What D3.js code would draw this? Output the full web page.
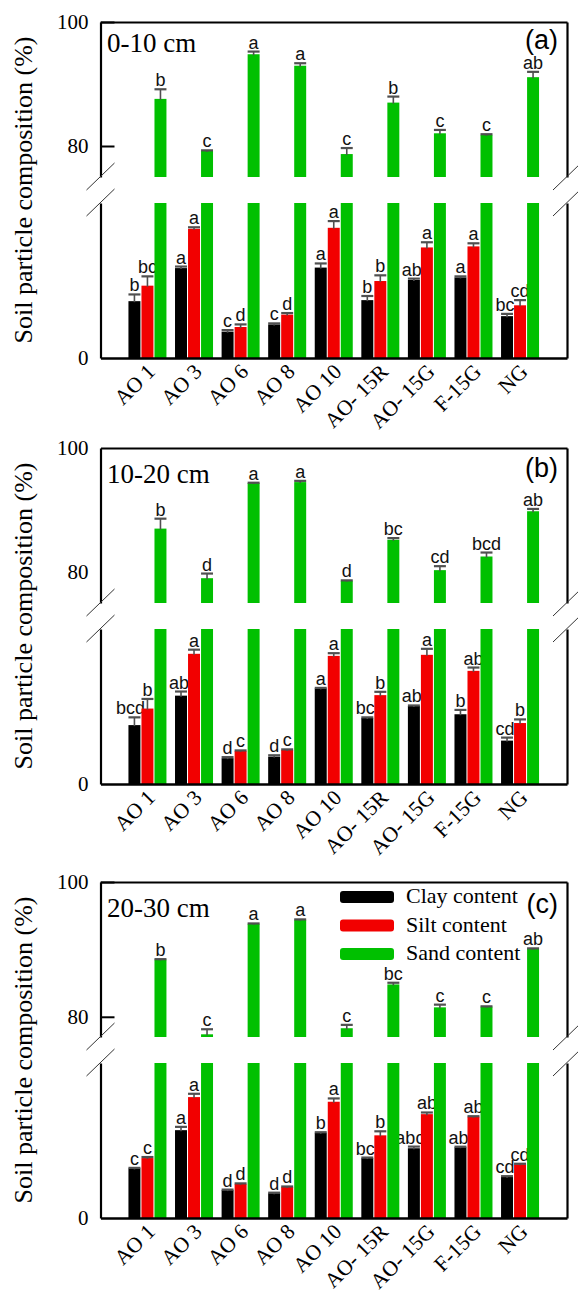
<!DOCTYPE html>
<html>
<head>
<meta charset="utf-8">
<script src="https://cdn.jsdelivr.net/npm/d3@7"></script>
<style>
  html, body { margin: 0; padding: 0; background: #fff; }
  svg { display: block; }
</style>
</head>
<body>
<script>
// ---------------- DATA ----------------
const categories = ["AO 1", "AO 3", "AO 6", "AO 8", "AO 10", "AO- 15R", "AO- 15G", "F-15G", "NG"];
const seriesNames = ["Clay content", "Silt content", "Sand content"];
const depthLabels = ["0-10 cm", "10-20 cm", "20-30 cm"];
const panelTags = ["(a)", "(b)", "(c)"];
const upperTicks = [80, 100];
const lowerTicks = [0];
const upperMin = [75, 75, 77];
const lowerMax = 15;

// Panel (a) 0-10 cm
const clayA = [5.5, 8.7, 2.55, 3.25, 8.75, 5.6, 7.55, 7.8, 4.05];
const clayErrA = [0.65, 0.15, 0.15, 0.1, 0.4, 0.4, 0.13, 0.1, 0.22];
const siltA = [7.0, 12.5, 3.0, 4.2, 12.6, 7.45, 10.7, 10.8, 5.1];
const siltErrA = [0.9, 0.15, 0.25, 0.15, 0.65, 0.55, 0.5, 0.3, 0.5];
const sandA = [87.6, 79.2, 94.8, 92.95, 78.7, 87.0, 82.05, 81.8, 91.1];
const sandErrA = [1.55, 0.1, 0.43, 0.4, 0.97, 0.97, 0.54, 0.1, 0.86];
const clayLetA = ["b", "a", "c", "c", "a", "b", "ab", "a", "bc"];
const siltLetA = ["bc", "a", "d", "d", "a", "b", "a", "a", "cd"];
const sandLetA = ["b", "c", "a", "a", "c", "b", "c", "c", "ab"];

// Panel (b) 10-20 cm
const clayB = [5.7, 8.55, 2.5, 2.65, 9.25, 6.4, 7.55, 6.75, 4.2];
const clayErrB = [0.75, 0.4, 0.1, 0.13, 0.05, 0.05, 0.05, 0.42, 0.29];
const siltB = [7.3, 12.6, 3.2, 3.3, 12.4, 8.6, 12.5, 10.95, 5.9];
const siltErrB = [0.93, 0.4, 0.05, 0.05, 0.26, 0.32, 0.58, 0.32, 0.35];
const sandB = [87.0, 79.0, 94.35, 94.5, 78.6, 85.2, 80.3, 82.5, 89.8];
const sandErrB = [1.6, 0.75, 0.05, 0.2, 0.05, 0.27, 0.64, 0.64, 0.37];
const clayLetB = ["bcd", "ab", "d", "d", "a", "bc", "ab", "b", "cd"];
const siltLetB = ["b", "a", "c", "c", "a", "b", "a", "ab", "b"];
const sandLetB = ["b", "d", "a", "a", "d", "bc", "cd", "bcd", "ab"];

// Panel (c) 20-30 cm
const clayC = [4.8, 8.5, 2.7, 2.4, 8.25, 5.8, 6.75, 6.85, 4.0];
const clayErrC = [0.05, 0.32, 0.05, 0.05, 0.05, 0.05, 0.16, 0.05, 0.05];
const siltC = [5.8, 11.7, 3.3, 3.0, 11.25, 8.0, 10.05, 9.8, 5.2];
const siltErrC = [0.1, 0.32, 0.05, 0.05, 0.32, 0.39, 0.16, 0.05, 0.05];
const sandC = [88.5, 77.4, 93.8, 94.4, 78.3, 84.8, 81.4, 81.5, 90.1];
const sandErrC = [0.05, 0.75, 0.05, 0.05, 0.5, 0.25, 0.4, 0.05, 0.05];
const clayLetC = ["c", "a", "d", "d", "b", "bc", "abc", "ab", "cd"];
const siltLetC = ["c", "a", "d", "d", "a", "b", "ab", "ab", "cd"];
const sandLetC = ["b", "c", "a", "a", "c", "bc", "c", "c", "ab"];

// ---------------- BUILD ----------------
const panels = [
  { values: [clayA, siltA, sandA], errs: [clayErrA, siltErrA, sandErrA], lets: [clayLetA, siltLetA, sandLetA] },
  { values: [clayB, siltB, sandB], errs: [clayErrB, siltErrB, sandErrB], lets: [clayLetB, siltLetB, sandLetB] },
  { values: [clayC, siltC, sandC], errs: [clayErrC, siltErrC, sandErrC], lets: [clayLetC, siltLetC, sandLetC] }
];

const W = 578, H = 1296;
const colors = ["#000000", "#f20000", "#00c000"];
const errColor = "#505050";
const serif = "'Liberation Serif','Times New Roman',serif";
const sans = "'Liberation Sans',Arial,sans-serif";

const panelTops = [22, 448, 882];
const labelBase = [30, 35, 35];
const tagBase = [27, 29, 31];
const showUpperTick = [true, false, true];
const segH = 155, gapH = 26;
const xL = 100.5, xR = 567;

const svg = d3.select("body").append("svg").attr("width", W).attr("height", H);

const x = d3.scaleBand().domain(categories).range([xL, xR]).paddingInner(0.184).paddingOuter(0.6);
const xs = d3.scaleBand().domain(seriesNames).range([0, x.bandwidth()]).paddingInner(0.08);

panels.forEach((P, p) => {
  const top = panelTops[p];
  const upBot = top + segH;
  const loTop = upBot + gapH;
  const zero = loTop + segH;
  const yU = d3.scaleLinear().domain([upperMin[p], 100]).range([upBot, top]);
  const yL = d3.scaleLinear().domain([0, lowerMax]).range([zero, loTop]);
  const g = svg.append("g");

  // bars
  seriesNames.forEach((s, si) => {
    const vals = P.values[si];
    const errs = P.errs[si];
    const lets = P.lets[si];
    categories.forEach((c, i) => {
      const bx = x(c) + xs(s);
      const bw = xs.bandwidth();
      const v = vals[i];
      const e = errs[i];
      const lv = Math.min(v, lowerMax);
      g.append("rect").attr("x", bx).attr("y", yL(lv)).attr("width", bw)
        .attr("height", yL(0) - yL(lv)).attr("fill", colors[si]);
      let yTop, yErr;
      if (v > lowerMax) {
        g.append("rect").attr("x", bx).attr("y", yU(v)).attr("width", bw)
          .attr("height", yU(upperMin[p]) - yU(v)).attr("fill", colors[si]);
        yTop = yU(v); yErr = yU(v + e);
      } else {
        yTop = yL(v); yErr = yL(v + e);
      }
      // error bar
      g.append("line").attr("x1", bx + bw / 2).attr("x2", bx + bw / 2)
        .attr("y1", yTop + 1).attr("y2", yErr).attr("stroke", errColor).attr("stroke-width", 1.6);
      g.append("line").attr("x1", bx).attr("x2", bx + bw)
        .attr("y1", yErr).attr("y2", yErr).attr("stroke", errColor).attr("stroke-width", 2.2);
      // significance letter (clay letters nudged left like the original)
      const shift = si === 0 ? -Math.max(0, lets[i].length - 1) * 2 : 0;
      g.append("text").attr("x", bx + bw / 2 + shift).attr("y", yErr - 3)
        .attr("text-anchor", "middle").attr("font-family", sans).attr("font-size", 18)
        .attr("fill", "#111").text(lets[i]);
    });
  });

  // axes
  const axU = g.append("g").attr("transform", `translate(${xL},0)`)
    .call(d3.axisLeft(yU).tickValues(upperTicks).tickFormat(d3.format("d"))
      .tickSizeInner(showUpperTick[p] ? -14 : 0).tickSizeOuter(0).tickPadding(12));
  const axL = g.append("g").attr("transform", `translate(${xL},0)`)
    .call(d3.axisLeft(yL).tickValues(lowerTicks).tickFormat(d3.format("d"))
      .tickSizeInner(0).tickSizeOuter(0).tickPadding(12));
  const axRU = g.append("g").attr("transform", `translate(${xR},0)`)
    .call(d3.axisRight(yU).tickValues([]).tickSizeOuter(0));
  const axRL = g.append("g").attr("transform", `translate(${xR},0)`)
    .call(d3.axisRight(yL).tickValues([]).tickSizeOuter(0));
  const axB = g.append("g").attr("transform", `translate(0,${zero})`)
    .call(d3.axisBottom(x).tickSize(0).tickPadding(0));
  const axT = g.append("g").attr("transform", `translate(0,${top})`)
    .call(d3.axisTop(x).tickSize(0).tickFormat(""));

  [axU, axL, axRU, axRL, axB, axT].forEach(a => {
    a.select(".domain").attr("stroke", "#000").attr("stroke-width", 2.2);
    a.selectAll(".tick line").attr("stroke", "#000").attr("stroke-width", 2);
    a.selectAll("text").attr("font-family", serif).attr("font-size", 21).attr("fill", "#000");
  });
  axB.select(".domain").attr("stroke-width", 2.6);
  axB.selectAll(".tick text")
    .attr("font-size", 21.5)
    .attr("text-anchor", "end")
    .attr("dy", 0).attr("y", 0)
    .attr("transform", "translate(9,15) rotate(-45)");

  // break marks
  [[xL, upBot], [xL, loTop], [xR, upBot], [xR, loTop]].forEach(([bx, by]) => {
    g.append("line").attr("x1", bx - 14).attr("y1", by + 13).attr("x2", bx + 14).attr("y2", by - 14)
      .attr("stroke", "#333").attr("stroke-width", 1);
  });

  // labels
  g.append("text").attr("x", 107).attr("y", top + labelBase[p])
    .attr("font-family", serif).attr("font-size", 27).attr("fill", "#000").text(depthLabels[p]);
  g.append("text").attr("x", 558).attr("y", top + tagBase[p])
    .attr("text-anchor", "end").attr("font-family", sans).attr("font-size", 27).attr("fill", "#000").text(panelTags[p]);
  g.append("text").attr("transform", `translate(32,${(top + zero) / 2}) rotate(-90)`)
    .attr("text-anchor", "middle").attr("font-family", serif).attr("font-size", 26).attr("fill", "#000")
    .text("Soil particle composition (%)");

  // legend in panel (c)
  if (p === 2) {
    seriesNames.forEach((s, si) => {
      const ly = top + 15 + si * 28.5;
      g.append("rect").attr("x", 340).attr("y", ly - 6).attr("width", 54).attr("height", 12)
        .attr("rx", 3).attr("fill", colors[si]);
      g.append("text").attr("x", 406).attr("y", ly + 6)
        .attr("font-family", serif).attr("font-size", 22).attr("fill", "#000").text(s);
    });
  }
});
</script>
</body>
</html>
